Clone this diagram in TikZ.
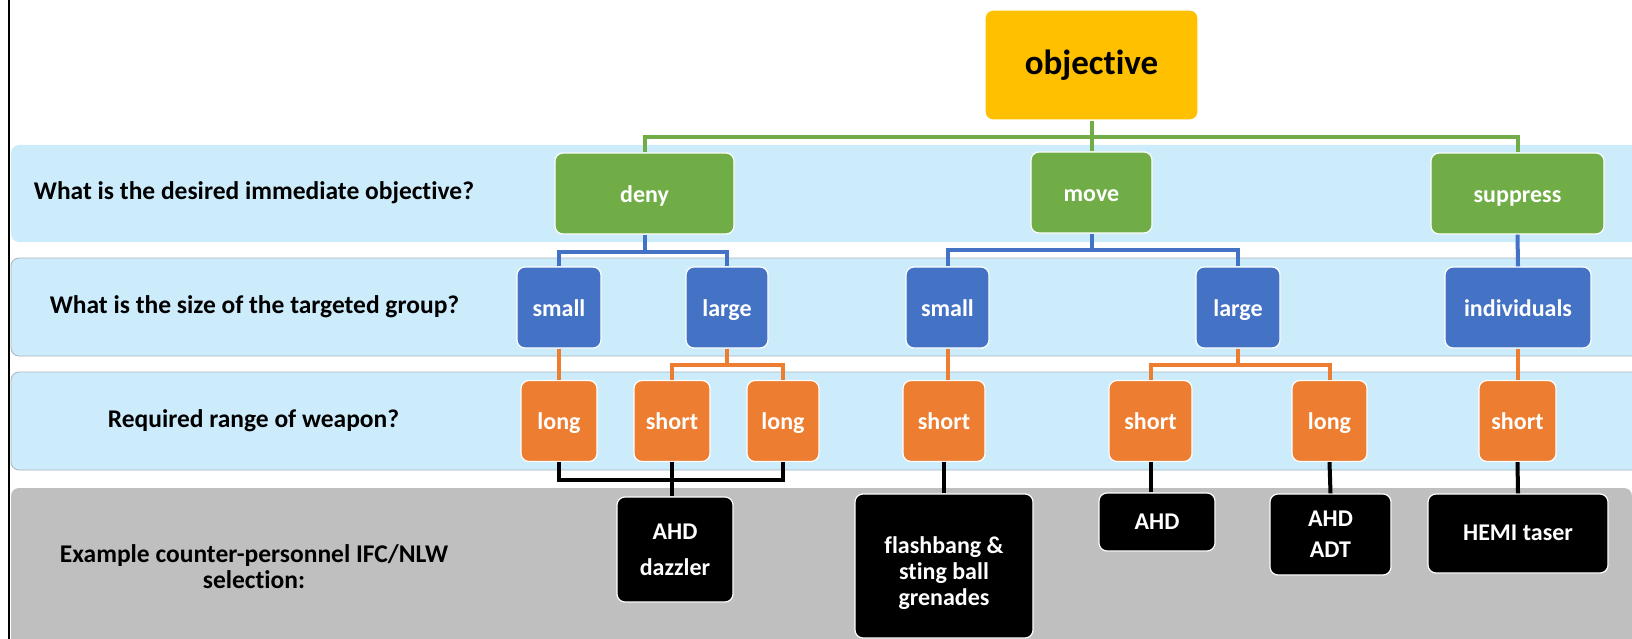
\documentclass[tikz,border=0pt]{standalone}
\usepackage{fontspec}
\setmainfont[Ligatures=NoCommon]{Carlito}
\definecolor{gold}{HTML}{FFC000}
\definecolor{leaf}{HTML}{70AD47}
\definecolor{sea}{HTML}{4472C4}
\definecolor{amber}{HTML}{ED7D31}
\definecolor{band}{HTML}{CCECFC}
\definecolor{bandline}{HTML}{A9B4BC}
\definecolor{slab}{HTML}{BFBFBF}
\begin{document}
\begin{tikzpicture}[x=1pt,y=-1pt,
  basebox/.style={draw=white, line width=1.2pt, rounded corners=8pt, inner sep=0pt,
    align=center, text=white, font=\fontsize{24}{26}\selectfont\bfseries},
  oneline/.style={text height=22pt, text depth=5pt},
  goalbox/.style={basebox, fill=gold, text=black, font=\fontsize{35}{38}\selectfont\bfseries},
  aimbox/.style={basebox, oneline, fill=leaf, minimum height=81pt},
  sizebox/.style={basebox, oneline, fill=sea, minimum height=81pt},
  rangebox/.style={basebox, oneline, fill=amber, minimum height=81pt},
  pickbox/.style={basebox, fill=black},
  question/.style={inner sep=0pt, align=center, text=black,
    font=\fontsize{25.5}{26}\selectfont\bfseries},
  link/.style={line width=4pt},
]
\useasboundingbox (0,0) rectangle (1632,639);
\clip (0,0) rectangle (1632,639);

% row backgrounds
\fill[band, rounded corners=8pt] (11,145) rectangle (1660,242);
\filldraw[fill=band, draw=bandline, line width=0.8pt, rounded corners=8pt] (11,258) rectangle (1660,356);
\filldraw[fill=band, draw=bandline, line width=0.8pt, rounded corners=8pt] (11,372) rectangle (1660,470);
\fill[slab, rounded corners=8pt] (11,488) rectangle (1632,680);
\draw[line width=2.5pt] (9,0) -- (9,639);

% row questions
\node[question] (q1) at (254,193) {What is the desired immediate objective?};
\node[question] (q2) at (254.5,307) {What is the size of the targeted group?};
\node[question] (q3) at (253.5,421) {Required range of weapon?};
\node[question] (q4) at (254,567) {Example counter-personnel IFC/NLW\\selection:};

% decision tree nodes
\node[goalbox, minimum width=213pt, minimum height=110pt] (obj) at (1091.5,65) {objective};

\node[aimbox, minimum width=179pt] (deny) at (644.5,193.5) {deny};
\node[aimbox, minimum width=121pt] (move) at (1091.5,192.5) {move};
\node[aimbox, minimum width=173pt] (supp) at (1517.5,193.5) {suppress};

\node[sizebox, minimum width=84pt] (small1) at (559,307.5) {small};
\node[sizebox, minimum width=82pt] (large1) at (727,307.5) {large};
\node[sizebox, minimum width=83pt] (small2) at (947.5,307.5) {small};
\node[sizebox, minimum width=84pt] (large2) at (1238,307.5) {large};
\node[sizebox, minimum width=146pt] (indiv) at (1518,307.5) {individuals};

\node[rangebox, minimum width=76pt] (long1) at (559,421) {long};
\node[rangebox, minimum width=76pt] (short1) at (672,421) {short};
\node[rangebox, minimum width=72pt] (long2) at (783,421) {long};
\node[rangebox, minimum width=82pt] (short2) at (944,421) {short};
\node[rangebox, minimum width=83pt] (short3) at (1150.5,421) {short};
\node[rangebox, minimum width=75pt] (long3) at (1329.5,421) {long};
\node[rangebox, minimum width=77pt] (short4) at (1517.5,421) {short};

\node[pickbox, minimum width=116pt, minimum height=105pt, font=\fontsize{24}{36}\selectfont\bfseries] (dazz) at (675,549.5) {AHD\\dazzler};
\node[pickbox, minimum width=178pt, minimum height=144pt] (flash) at (944,566) {\rule{0pt}{32pt}flashbang \&\\sting ball\\grenades};
\node[pickbox, minimum width=116pt, minimum height=58pt] (ahd) at (1157,522) {AHD};
\node[pickbox, minimum width=121pt, minimum height=81pt, font=\fontsize{24}{31}\selectfont\bfseries] (adt) at (1330.5,534.5) {AHD\\ADT};
\node[pickbox, minimum width=180pt, minimum height=79pt, text depth=2pt] (hemi) at (1518,533.5) {HEMI taser};

% objective to immediate aims
\coordinate (gbar) at (1091.5,137);
\draw[link, leaf] (obj.south) -- (gbar);
\draw[link, leaf] (deny.north) -- (deny.north |- gbar) -- (supp.north |- gbar) -- (supp.north);
\draw[link, leaf] (gbar) -- (move.north);

% aims to group sizes
\coordinate (b1) at (644.5,252);
\coordinate (b2) at (1091.5,250);
\draw[link, sea] (deny.south) -- (b1);
\draw[link, sea] (small1.north) -- (small1.north |- b1) -- (large1.north |- b1) -- (large1.north);
\draw[link, sea] (move.south) -- (b2);
\draw[link, sea] (small2.north) -- (small2.north |- b2) -- (large2.north |- b2) -- (large2.north);
\draw[link, sea] (supp.south) -- (indiv.north);

% group sizes to ranges
\coordinate (o1) at (727,365);
\coordinate (o2) at (1238,365);
\draw[link, amber] (small1.south) -- (long1.north);
\draw[link, amber] (large1.south) -- (o1);
\draw[link, amber] (short1.north) -- (short1.north |- o1) -- (long2.north |- o1) -- (long2.north);
\draw[link, amber] (small2.south) -- (small2.south |- short2.north);
\draw[link, amber] (large2.south) -- (o2);
\draw[link, amber] (short3.north) -- (short3.north |- o2) -- (long3.north |- o2) -- (long3.north);
\draw[link, amber] (indiv.south) -- (indiv.south |- short4.north);

% ranges to example weapons
\coordinate (k1) at (672,480);
\draw[link, black] (long1.south) -- (long1.south |- k1) -- (long2.south |- k1) -- (long2.south);
\draw[link, black] (short1.south) -- (short1.south |- dazz.north);
\draw[link, black] (short2.south) -- (flash.north);
\draw[link, black] (short3.south) -- (short3.south |- ahd.north);
\draw[link, black] (long3.south) -- (adt.north);
\draw[link, black] (short4.south) -- (hemi.north);
\end{tikzpicture}
\end{document}
